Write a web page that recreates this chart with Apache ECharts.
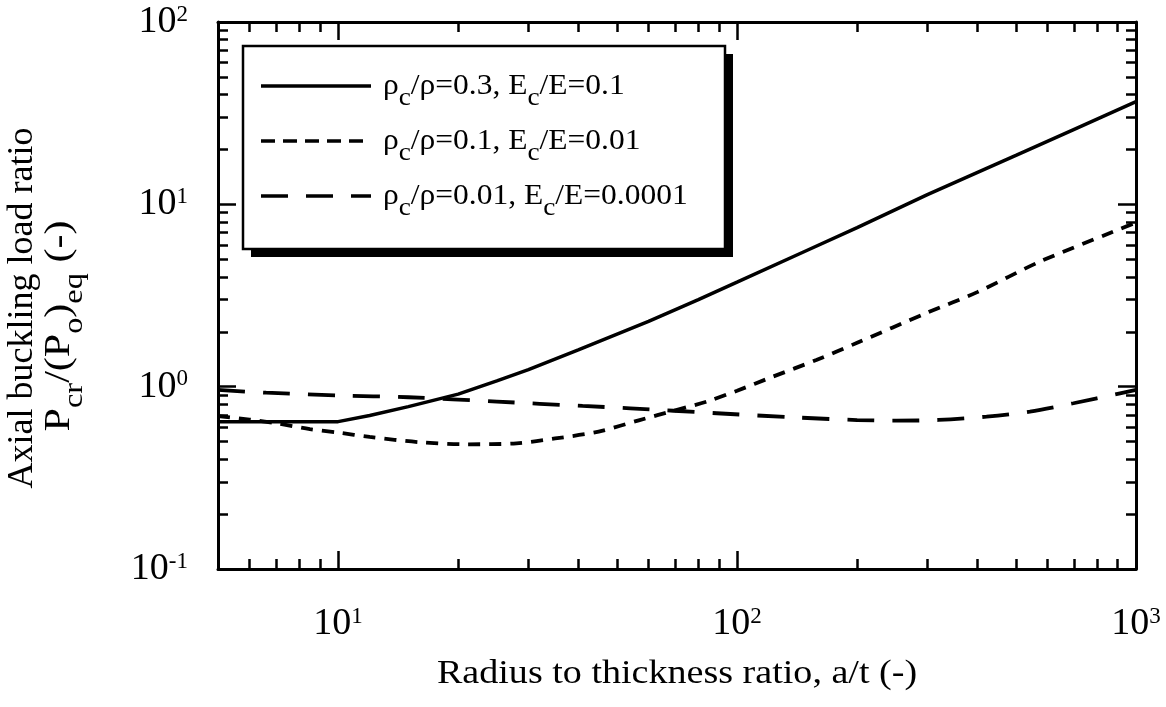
<!DOCTYPE html>
<html>
<head>
<meta charset="utf-8">
<script src="https://cdn.jsdelivr.net/npm/echarts@6/dist/echarts.min.js"></script>
<style>
  html, body { margin: 0; padding: 0; background: #fff; }
  #chart { width: 1166px; height: 707px; }
</style>
</head>
<body>
<div id="chart"></div>
<script>
// axis ticks
var xMajor = [10, 100, 1000];
var xMinor = [6, 7, 8, 9, 20, 30, 40, 50, 60, 70, 80, 90, 200, 300, 400, 500, 600, 700, 800, 900];
var yMajor = [0.1, 1, 10, 100];
var yMinor = [0.2, 0.3, 0.4, 0.5, 0.6, 0.7, 0.8, 0.9, 2, 3, 4, 5, 6, 7, 8, 9, 20, 30, 40, 50, 60, 70, 80, 90];

// rho_c/rho=0.3, Ec/E=0.1  (solid)
var xSolid = [5, 10, 12, 15, 20, 25, 30, 40, 60, 80, 100, 150, 200, 300, 500, 700, 1000];
var ySolid = [0.643, 0.643, 0.695, 0.777, 0.91, 1.076, 1.24, 1.59, 2.28, 3.0, 3.74, 5.6, 7.45, 11.3, 18.55, 25.8, 36.6];

// rho_c/rho=0.1, Ec/E=0.01  (short dash)
var xShort = [5, 6, 7, 8.5, 10, 12, 16, 21, 28, 35, 45, 57, 70, 84, 100, 123, 158, 200, 300, 400, 574, 877, 1000];
var yShort = [0.69, 0.66, 0.63, 0.585, 0.56, 0.53, 0.496, 0.483, 0.489, 0.52, 0.567, 0.656, 0.742, 0.828, 0.95, 1.135, 1.4, 1.74, 2.55, 3.3, 4.85, 7.08, 7.95];

// rho_c/rho=0.01, Ec/E=0.0001  (long dash)
var xLong = [5, 6.6, 10, 15, 25, 41, 54, 89, 136, 200, 251, 320, 422, 542, 697, 912, 1000];
var yLong = [0.96, 0.927, 0.895, 0.875, 0.828, 0.784, 0.761, 0.715, 0.68, 0.656, 0.651, 0.657, 0.685, 0.73, 0.811, 0.92, 0.96];

var legendNames = [
  'ρ{s|c}/ρ=0.3, E{s|c}/E=0.1',
  'ρ{s|c}/ρ=0.1, E{s|c}/E=0.01',
  'ρ{s|c}/ρ=0.01, E{s|c}/E=0.0001'
];

var FONT = 'Liberation Serif';

function pairs(xs, ys) {
  return xs.map(function (x, i) { return [x, ys[i]]; });
}

function powLabel(v) {
  var e = Math.round(Math.log(v) / Math.LN10);
  return '{b|10}{s|' + e + '}';
}

var labelRich = {
  b: { fontSize: 38, lineHeight: 38, fontFamily: FONT, color: '#000' },
  s: { fontSize: 23, lineHeight: 23, fontFamily: FONT, color: '#000', verticalAlign: 'top' }
};

var lineBlack = { color: '#000', width: 3 };

function xAx(grid, pos, major) {
  return {
    type: 'log', logBase: 10, min: 5, max: 1000, gridIndex: grid, position: pos,
    axisLine: { show: major, lineStyle: lineBlack },
    axisTick: { inside: true, length: major ? 18 : 10, customValues: major ? xMajor : xMinor,
      lineStyle: { color: '#000', width: 2.5 } },
    axisLabel: { show: major && pos === 'bottom', customValues: xMajor, margin: 36,
      formatter: powLabel, rich: labelRich },
    splitLine: { show: false }
  };
}

function yAx(grid, pos, major) {
  return {
    type: 'log', logBase: 10, min: 0.1, max: 100, gridIndex: grid, position: pos,
    axisLine: { show: major, lineStyle: lineBlack },
    axisTick: { inside: true, length: major ? 18 : 10, customValues: major ? yMajor : yMinor,
      lineStyle: { color: '#000', width: 2.5 } },
    axisLabel: { show: major && pos === 'left', customValues: yMajor, margin: 30,
      formatter: powLabel, rich: labelRich },
    splitLine: { show: false }
  };
}

var gridBox = { left: 218, right: 30, top: 22, bottom: 138, outerBoundsMode: 'none' };

function legendItem(i, dash) {
  var y = 86 + i * 55;
  return [
    { type: 'line', z: 12, shape: { x1: 261, y1: y, x2: 371, y2: y },
      style: { stroke: '#000', lineWidth: 3.5, lineDash: dash } },
    { type: 'text', z: 12, x: 383, y: y, scaleX: 1.05,
      style: { text: legendNames[i], fontSize: 30, fontFamily: FONT, fill: '#000',
        align: 'left', verticalAlign: 'middle', lineHeight: 50,
        rich: { s: { fontSize: 26, lineHeight: 26, fontFamily: FONT, fill: '#000', verticalAlign: 'bottom' } } } }
  ];
}

var chart = echarts.init(document.getElementById('chart'), null, { renderer: 'canvas' });

var graphics = [
  // legend box with drop shadow
  { type: 'rect', z: 10, shape: { x: 251, y: 54, width: 482, height: 203 }, style: { fill: '#000' } },
  { type: 'rect', z: 11, shape: { x: 243, y: 46, width: 482, height: 203 },
    style: { fill: '#fff', stroke: '#000', lineWidth: 2.5 } },
  // axis titles
  { type: 'text', z: 12, x: 677, y: 674, scaleX: 1.12,
    style: { text: 'Radius to thickness ratio, a/t (-)', fontSize: 34, fontFamily: FONT, fill: '#000',
      align: 'center', verticalAlign: 'middle' } },
  { type: 'text', z: 12, x: 23, y: 308, rotation: Math.PI / 2,
    style: { text: 'Axial buckling load ratio', fontSize: 36, fontFamily: FONT, fill: '#000',
      align: 'center', verticalAlign: 'middle' } },
  { type: 'text', z: 12, x: 60, y: 326, rotation: Math.PI / 2, scaleX: 1.2,
    style: { text: 'P{s|cr}/(P{s|o}){s|eq} (-)', fontSize: 35, fontFamily: FONT, fill: '#000',
      align: 'center', verticalAlign: 'middle', lineHeight: 56,
      rich: { s: { fontSize: 27, lineHeight: 27, fontFamily: FONT, fill: '#000', verticalAlign: 'bottom' } } } }
].concat(legendItem(0, null), legendItem(1, [14, 8]), legendItem(2, [27, 18]));

var option = {
  animation: false,
  backgroundColor: '#fff',
  grid: [Object.assign({}, gridBox), Object.assign({}, gridBox)],
  xAxis: [xAx(0, 'bottom', true), xAx(0, 'top', true), xAx(1, 'bottom', false), xAx(1, 'top', false)],
  yAxis: [yAx(0, 'left', true), yAx(0, 'right', true), yAx(1, 'left', false), yAx(1, 'right', false)],
  series: [
    { type: 'line', name: 's1', xAxisIndex: 0, yAxisIndex: 0, showSymbol: false, symbol: 'none',
      data: pairs(xSolid, ySolid), lineStyle: { color: '#000', width: 3.5, type: 'solid' } },
    { type: 'line', name: 's2', xAxisIndex: 0, yAxisIndex: 0, showSymbol: false, symbol: 'none', smooth: 0.3,
      data: pairs(xShort, yShort), lineStyle: { color: '#000', width: 3.8, type: [12, 9] } },
    { type: 'line', name: 's3', xAxisIndex: 0, yAxisIndex: 0, showSymbol: false, symbol: 'none', smooth: 0.3,
      data: pairs(xLong, yLong), lineStyle: { color: '#000', width: 3.8, type: [27, 18] } }
  ],
  graphic: graphics
};

chart.setOption(option);
</script>
</body>
</html>
